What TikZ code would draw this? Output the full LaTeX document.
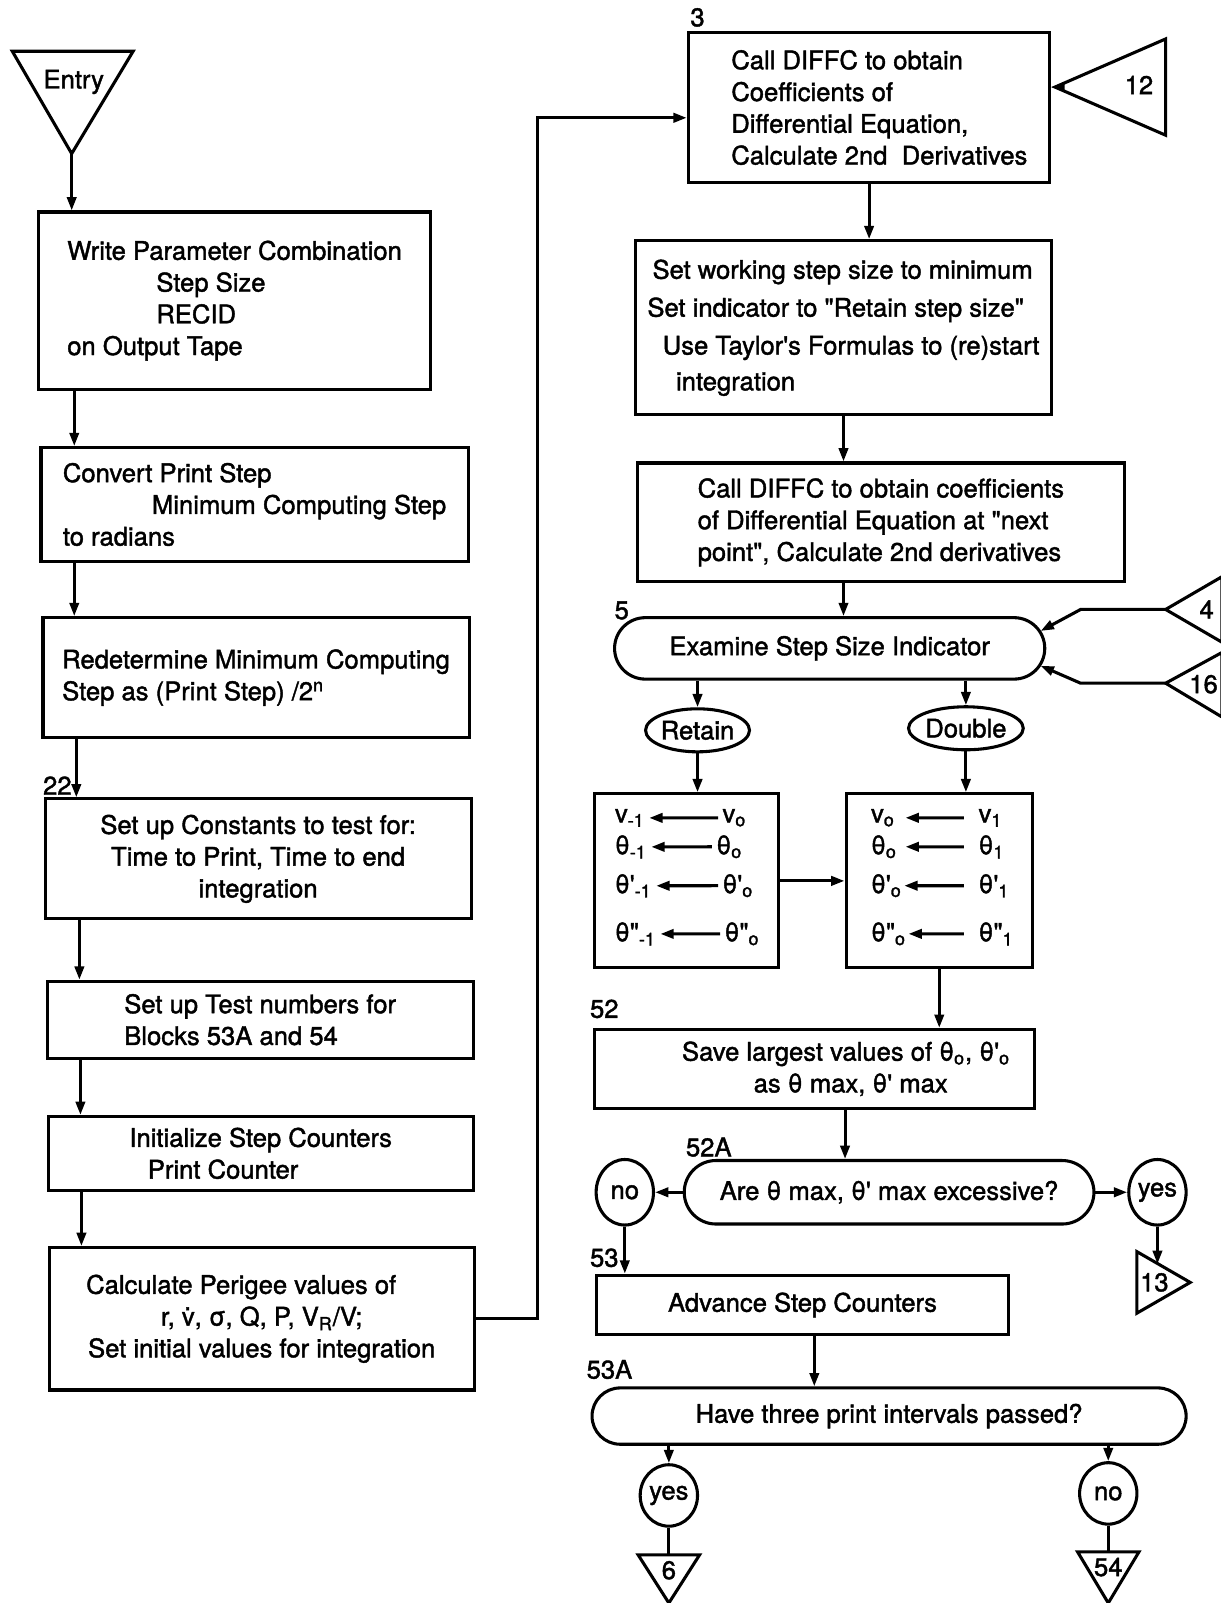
\documentclass[tikz,border=0pt]{standalone}
\usepackage{fontspec}
\setmainfont{TeX Gyre Heros}[FakeBold=1.6]
\usetikzlibrary{arrows.meta,shapes.geometric,shapes.misc}
\newcommand{\sq}{\textquotesingle}
\newcommand{\dq}{\textquotedbl}
\begin{document}
\begin{tikzpicture}[x=0.5pt,y=-0.5pt,
  font=\fontsize{12.5}{15.5}\selectfont,
  box/.style={draw, line width=1.5pt, rectangle, inner sep=0pt, align=left},
  cbox/.style={box, align=center},
  term/.style={draw, line width=1.5pt, rounded rectangle, inner sep=0pt},
  oval/.style={draw, line width=1.5pt, ellipse, inner sep=0pt},
  arr/.style={line width=1.5pt, -{Triangle[length=6.5pt,width=4.5pt]}},
  conn/.style={line width=1.5pt},
  lbl/.style={inner sep=0pt},
  sub/.style={},
  cell/.style={inner sep=1pt, anchor=base west}]
\useasboundingbox (0,0) rectangle (1192,1565);

% ---------- left column ----------
\coordinate (etl) at (12,50); \coordinate (etr) at (130,50); \coordinate (etip) at (70,150);
\draw[conn] (etl) -- (etr) -- (etip) -- cycle;
\node[lbl] (entry) at (72,80) {Entry};

\node[box, minimum width=191pt, minimum height=86.5pt] (b1) at (229,293.5)
  {Write Parameter Combination\\\hspace*{43.5pt}Step Size\\\hspace*{43.5pt}RECID\\on Output Tape};
\draw[arr] (etip) -- (etip |- b1.north);

\node[box, minimum width=208.5pt, minimum height=55.5pt] (b2) at (248.5,492.5)
  {Convert Print Step\\\hspace*{43.5pt}Minimum Computing Step\\to radians};
\coordinate (a1) at ([xshift=18pt]b1.south west);
\draw[arr] (a1) -- (a1 |- b2.north);

\node[box, minimum width=208pt, minimum height=58.5pt] (b3) at (250,661.5)
  {Redetermine Minimum Computing\\Step as (Print Step) /2\textsuperscript{n}};
\coordinate (a2) at ([xshift=17pt]b2.south west);
\draw[arr] (a2) -- (a2 |- b3.north);

\node[cbox, minimum width=208pt, minimum height=58.5pt] (b4) at (252,838.5)
  {Set up Constants to test for:\\Time to Print, Time to end\\integration};
\coordinate (a3) at ([xshift=17pt]b3.south west);
\draw[arr] (a3) -- (a3 |- b4.north);
\node[lbl] (l22) at (56,767) {22};

\node[box, minimum width=208pt, minimum height=37.5pt] (b5) at (254,995.5)
  {Set up Test numbers for\\Blocks 53A and 54};
\coordinate (a4) at ([xshift=17.5pt]b4.south west);
\draw[arr] (a4) -- (a4 |- b5.north);

\node[box, minimum width=207.5pt, minimum height=36pt] (b6) at (254.5,1126)
  {Initialize Step Counters\\\hspace*{9pt}Print Counter};
\coordinate (a5) at ([xshift=17pt]b5.south west);
\draw[arr] (a5) -- (a5 |- b6.north);

\node[cbox, minimum width=207.5pt, minimum height=69.5pt] (b7) at (255.5,1287.5)
  {Calculate Perigee values of\hspace*{20pt}\\r, \.{v}, σ, Q, P, V\textsubscript{R}/V;\hspace*{16pt}\\Set initial values for integration};
\coordinate (a6) at ([xshift=17pt]b6.south west);
\draw[arr] (a6) -- (a6 |- b7.north);

% ---------- right column ----------
\node[box, minimum width=176.5pt, minimum height=73pt] (b8) at (848.5,105)
  {\hspace*{10pt}Call DIFFC to obtain\\\hspace*{10pt}Coefficients of\\\hspace*{10pt}Differential Equation,\\\hspace*{10pt}Calculate 2nd\ \ Derivatives};
\node[lbl] (l3) at (681,17) {3};
\coordinate (turn) at (525,115);
\draw[arr] (b7.east) -| (turn) -- (turn -| b8.west);

\coordinate (t12) at (1030,85);
\draw[conn] (t12) -- (1138,38) -- (1138,132) -- cycle;
\node[lbl] (n12) at (1112,83) {12};
\draw[arr] (t12) -- (t12 -| b8.east);

\node[box, minimum width=203.5pt, minimum height=85pt] (b9) at (823.5,320)
  {\hspace*{2.5pt}Set working step size to minimum\\[3pt]Set indicator to \dq Retain step size\dq\\[3pt]\hspace*{7.5pt}Use Taylor\sq s Formulas to (re)start\\[2pt]\hspace*{14pt}integration};
\draw[arr] (b8.south) -- (b8.south |- b9.north);

\node[box, minimum width=238pt, minimum height=58pt] (b10) at (860,510)
  {Call DIFFC to obtain coefficients\\of Differential Equation at \dq next\\point\dq, Calculate 2nd derivatives};
\draw[arr] (b9.south) -- (b9.south |- b10.north);

\node[term, minimum width=210pt, minimum height=30pt] (e) at (810,633) {Examine Step Size Indicator};
\draw[arr] (b9.south |- b10.south) -- (b9.south |- e.north);
\node[lbl] (l5) at (607,596) {5};

\coordinate (t4) at (1138,595);
\draw[conn] (t4) -- (1193,563) -- (1193,627) -- cycle;
\node[lbl] (n4) at (1178,595) {4};
\coordinate (t4k) at (1055,595); \coordinate (e4) at (1016,616);
\draw[arr] (t4) -- (t4k) -- (e4);

\coordinate (t16) at (1138,667);
\draw[conn] (t16) -- (1193,637) -- (1193,700) -- cycle;
\node[lbl] (n16) at (1175,668) {16};
\coordinate (t16k) at (1055,667); \coordinate (e16) at (1016,650);
\draw[arr] (t16) -- (t16k) -- (e16);

\node[oval, minimum width=50pt, minimum height=21pt] (ret) at (681,713) {Retain};
\node[oval, minimum width=53pt, minimum height=21pt] (dbl) at (943,711) {Double};
\draw[arr] (e.south -| ret) -- (ret.north);
\draw[arr] (e.south -| dbl) -- (dbl.north);

\node[box, minimum width=90pt, minimum height=85pt] (bl) at (670,860) {};
\node[box, minimum width=91pt, minimum height=85pt] (br) at (917,860) {};
\draw[arr] (ret.south) -- (ret.south |- bl.north);
\draw[arr] (dbl.south) -- (dbl.south |- br.north);
\draw[arr] (bl.east) -- (br.west);

% left table
\node[cell] (l1a) at (598,803) {v\textsubscript{-1}};
\node[cell] (l1b) at (703,803) {v\textsubscript{o}};
\node[cell] (l2a) at (598,834) {θ\textsubscript{-1}};
\node[cell] (l2b) at (697,834) {θ\textsubscript{o}};
\node[cell] (l3a) at (598,872) {θ\sq\textsubscript{-1}};
\node[cell] (l3b) at (703,872) {θ\sq\textsubscript{o}};
\node[cell] (l4a) at (598,919) {θ\dq\textsubscript{-1}};
\node[cell] (l4b) at (705,919) {θ\dq\textsubscript{o}};
\foreach \r in {1,2,3,4} \draw[arr, shorten <=1pt, shorten >=1pt] (l\r b) -- (l\r a);

% right table
\node[cell] (r1a) at (848,803) {v\textsubscript{o}};
\node[cell] (r1b) at (953,803) {v\textsubscript{1}};
\node[cell] (r2a) at (848,834) {θ\textsubscript{o}};
\node[cell] (r2b) at (953,834) {θ\textsubscript{1}};
\node[cell] (r3a) at (848,872) {θ\sq\textsubscript{o}};
\node[cell] (r3b) at (953,872) {θ\sq\textsubscript{1}};
\node[cell] (r4a) at (848,919) {θ\dq\textsubscript{o}};
\node[cell] (r4b) at (953,919) {θ\dq\textsubscript{1}};
\draw[arr, shorten <=6pt, shorten >=4pt] (r1b) -- (r1a);
\draw[arr, shorten <=6pt, shorten >=3pt] (r2b) -- (r2a);
\draw[arr, shorten <=6pt] (r3b) -- (r3a);
\draw[arr, shorten <=6pt] (r4b) -- (r4a);

\node[box, minimum width=215pt, minimum height=38.5pt] (b52) at (795,1043.5)
  {\hspace*{31pt}Save largest values of θ\textsubscript{o}, θ\sq\textsubscript{o}\\\hspace*{66pt}as θ max, θ\sq\ max};
\node[lbl] (l52) at (590,985) {52};
\draw[arr] (br.south) -- (br.south |- b52.north);

\node[term, minimum width=200pt, minimum height=31pt] (q1) at (868,1164) {Are θ max, θ\sq\ max excessive?};
\node[lbl] (l52a) at (692,1120) {52A};
\coordinate (xa) at (825,0);
\draw[arr] (b52.south -| xa) -- (q1.north -| xa);

\node[oval, minimum width=28pt, minimum height=32pt] (no1) at (610,1164) {no};
\node[oval, minimum width=28pt, minimum height=32pt] (yes1) at (1130,1164) {yes};
\draw[arr] (q1.west) -- (no1.east);
\draw[arr] (q1.east) -- (yes1.west);

\coordinate (t13a) at (1110,1222);
\draw[conn] (t13a) -- (1162,1252) -- (1110,1282) -- cycle;
\node[lbl] (n13) at (1127,1252) {13};
\coordinate (t13in) at (1130,1234);
\draw[arr] (yes1.south) -- (t13in);

\node[cbox, minimum width=201.5pt, minimum height=29pt] (b53) at (783.5,1274) {Advance Step Counters};
\node[lbl] (l53) at (590,1228) {53};
\draw[arr] (no1.south) -- (no1.south |- b53.north);

\node[term, minimum width=290pt, minimum height=27.5pt] (q2) at (868,1382.5) {Have three print intervals passed?};
\node[lbl] (l53a) at (595,1337) {53A};
\coordinate (xb) at (795,0);
\draw[arr] (b53.south -| xb) -- (q2.north -| xb);

\node[oval, minimum width=28pt, minimum height=30pt] (yes2) at (653,1460) {yes};
\node[oval, minimum width=28pt, minimum height=30pt] (no2) at (1082,1458) {no};
\draw[arr] (q2.south -| yes2) -- (yes2.north);
\draw[arr] (q2.south -| no2) -- (no2.north);

\coordinate (t6top) at (653,1518);
\draw[conn] (623,1518) -- (683,1518) -- (653,1565) -- cycle;
\node[lbl] (n6) at (653,1533) {6};
\draw[conn] (yes2.south) -- (t6top);

\coordinate (t54top) at (1082,1515);
\draw[conn] (1052,1515) -- (1112,1515) -- (1082,1565) -- cycle;
\node[lbl] (n54) at (1082,1530) {54};
\draw[conn] (no2.south) -- (t54top);
\end{tikzpicture}
\end{document}
